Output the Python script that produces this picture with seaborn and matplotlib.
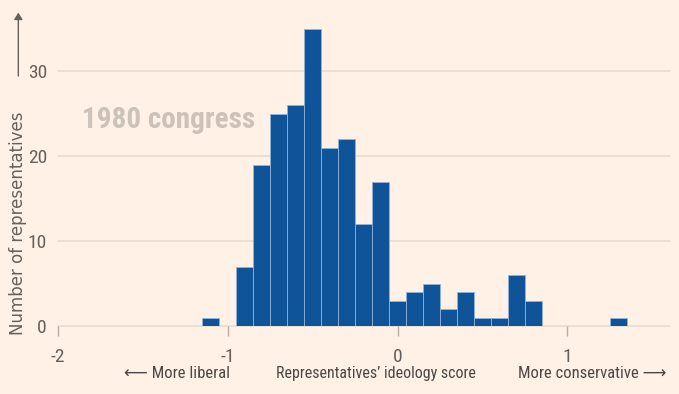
# %% Requirements and constants
import matplotlib
matplotlib.use('Agg')
import numpy as np
import pandas as pd
import seaborn as sns
import matplotlib.pyplot as plt
from matplotlib import font_manager

# bin centres (ideology score, 0.1 wide bins) and number of representatives
score_bins = [-1.1, -0.9, -0.8, -0.7, -0.6, -0.5, -0.4, -0.3, -0.2, -0.1,
              0.0, 0.1, 0.2, 0.3, 0.4, 0.5, 0.6, 0.7, 0.8, 1.3]
counts = [1, 7, 19, 25, 26, 35, 21, 22, 12, 17,
          3, 4, 5, 2, 4, 1, 1, 6, 3, 1]
x_ticks = [-2, -1, 0, 1]
y_ticks = [0, 10, 20, 30]

BG = '#FFF1E5'
BLUE = '#0F5499'
GRID = '#E8DCD0'
TXT = '#66605C'

installed = {f.name for f in font_manager.fontManager.ttflist}
narrow = next((f for f in ['Roboto Condensed', 'Liberation Sans Narrow', 'Liberation Sans']
               if f in installed), 'DejaVu Sans')

# %% Plot
sns.set_theme(style='white')
plt.rcParams['font.family'] = [narrow, 'DejaVu Sans']

df = pd.DataFrame({'score': score_bins, 'n': counts})

fig = plt.figure(figsize=(6.79, 3.94), dpi=100, facecolor=BG)
ax = fig.add_axes([0.0854, 0.1726, 0.9016, 0.8274], facecolor=BG)

for y in y_ticks:
    ax.axhline(y, color=GRID, lw=1.2, zorder=0, clip_on=False)

sns.barplot(df, x='score', y='n', native_scale=True, width=1, color=BLUE,
            saturation=1, edgecolor='#8FB3DA', linewidth=0.6, ax=ax, zorder=2)

ax.set_xlim(-2, 1.606)
ax.set_ylim(0, 38.4)
ax.set_xticks(x_ticks)
ax.set_xticklabels(['-2', '-1', '0', '1'])
ax.set_yticks(y_ticks)
ax.tick_params(axis='x', length=7, width=1, color='#B8AEA5', pad=9,
               labelsize=14, labelcolor=TXT, direction='out', bottom=True)
ax.tick_params(axis='y', length=0, pad=8, labelsize=14, labelcolor=TXT)
ax.set_xlabel('')
ax.set_ylabel('')
for s in ax.spines.values():
    s.set_visible(False)

ax.text(-1.86, 24.3, '1980 congress', fontsize=21, fontweight='bold',
        color='#CCC2B9', va='center', ha='left', zorder=1)

fig.text(0.26, 0.032, '\u27f5 More liberal', ha='center', va='bottom',
         fontsize=12, color='#4D4845')
fig.text(0.553, 0.032, 'Representatives\u2019 ideology score', ha='center',
         va='bottom', fontsize=11.5, color='#4D4845')
fig.text(0.982, 0.032, 'More conservative \u27f6', ha='right', va='bottom',
         fontsize=12, color='#4D4845')

fig.text(0.027, 0.15, 'Number of representatives', rotation=90, ha='center',
         va='bottom', fontsize=12, color=TXT, family=['DejaVu Sans'])
fig.patches.append(matplotlib.patches.FancyArrowPatch(
    (0.027, 0.80), (0.027, 0.975), transform=fig.transFigure,
    arrowstyle='-|>,head_length=4,head_width=2.5', color=TXT, lw=1))

fig.savefig('out.png', dpi=100, facecolor=BG)
